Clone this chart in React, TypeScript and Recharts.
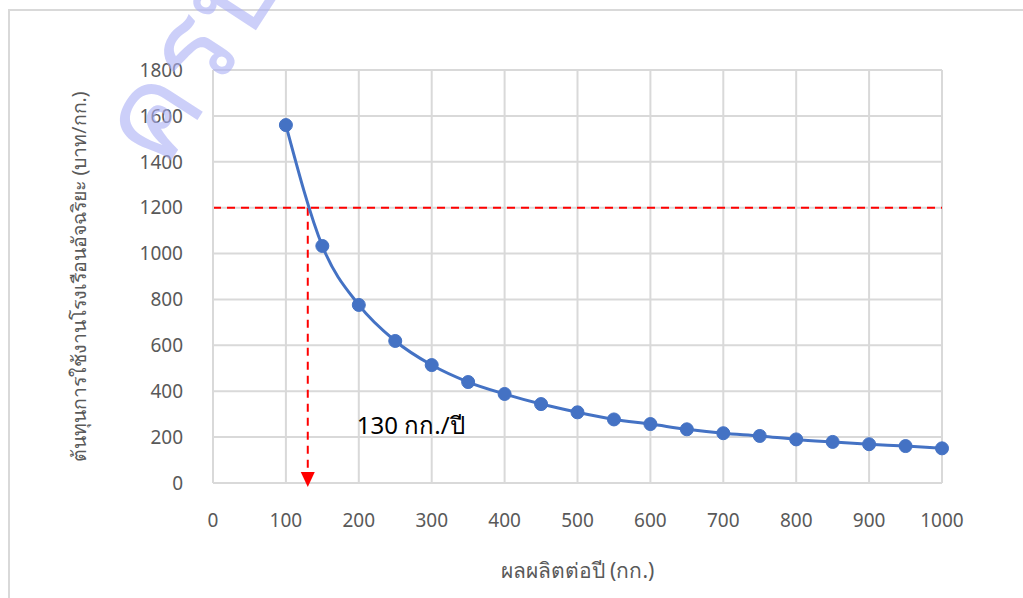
import React from 'react';
import {
  LineChart, Line, XAxis, YAxis, CartesianGrid, ReferenceLine, ReferenceDot, Label,
} from 'recharts';

// production per year (kg) vs. smart greenhouse cost (baht/kg)
const production = [100, 150, 200, 250, 300, 350, 400, 450, 500, 550, 600, 650, 700, 750, 800, 850, 900, 950, 1000];
const costPerKg = [1560, 1033, 776, 619, 514, 440, 388, 344, 308, 277, 257, 234, 217, 205, 190, 179, 169, 161, 151];

const xTicks = [0, 100, 200, 300, 400, 500, 600, 700, 800, 900, 1000];
const yTicks = [0, 200, 400, 600, 800, 1000, 1200, 1400, 1600, 1800];

const targetCost = 1200;
const breakEven = 130;
const noteAnchor = { x: 200, y: 250 };
const noteText = '130 กก./ปี';

const xTitle = 'ผลผลิตต่อปี (กก.)';
const yTitle = 'ต้นทุนการใช้งานโรงเรือนอัจฉริยะ (บาท/กก.)';

const data = production.map((x, i) => ({ x, cost: costPerKg[i] }));

const FONT = 'Tahoma, "Noto Sans", "DejaVu Sans", sans-serif';
const tickStyle = { fill: '#595959', fontSize: 19, fontFamily: FONT };

const Arrow = (props: any) => {
  const { cx, cy } = props;
  return <path d={`M${cx - 7},${cy - 11} L${cx + 7},${cy - 11} L${cx},${cy + 4} Z`} fill="#ff0000" />;
};

export default function App() {
  return (
    <div style={{ position: 'absolute', top: 0, left: 0, width: 1023, height: 598, overflow: 'hidden', background: '#fff' }}>
      <div style={{ position: 'absolute', left: 8, top: 9, width: 1100, height: 700, borderLeft: '2px solid #d9d9d9', borderTop: '2px solid #d9d9d9' }} />
      <LineChart
        width={1023}
        height={598}
        data={data}
        margin={{ top: 70, right: 81, bottom: 0, left: 133 }}
        style={{ position: 'absolute', top: 0, left: 0 }}
      >
        <CartesianGrid stroke="#d9d9d9" strokeWidth={2} />
        <XAxis
          dataKey="x"
          type="number"
          domain={[0, 1000]}
          ticks={xTicks}
          tick={tickStyle}
          tickLine={false}
          tickSize={0}
          tickMargin={31}
          axisLine={{ stroke: '#d9d9d9', strokeWidth: 2 }}
          height={115}
        >
          <Label value={xTitle} position="insideBottom" offset={20} style={{ fill: '#595959', fontSize: 21, fontFamily: FONT }} />
        </XAxis>
        <YAxis
          type="number"
          domain={[0, 1800]}
          ticks={yTicks}
          tick={tickStyle}
          tickLine={false}
          tickSize={0}
          tickMargin={30}
          axisLine={{ stroke: '#d9d9d9', strokeWidth: 2 }}
          width={80}
        >
          <Label
            value={yTitle}
            angle={-90}
            position="insideLeft"
            offset={-54}
            style={{ fill: '#595959', fontSize: 19.5, fontFamily: FONT, textAnchor: 'middle' }}
          />
        </YAxis>
        <ReferenceLine y={targetCost} stroke="#ff0000" strokeWidth={2} strokeDasharray="8 6" />
        <ReferenceLine
          segment={[{ x: breakEven, y: targetCost }, { x: breakEven, y: 40 }]}
          stroke="#ff0000"
          strokeWidth={2}
          strokeDasharray="8 6"
        />
        <ReferenceDot x={breakEven} y={0} shape={Arrow} />
        <ReferenceDot x={noteAnchor.x} y={noteAnchor.y} r={0} fill="none" stroke="none">
          <Label value={noteText} position="right" offset={-2} style={{ fill: '#000', fontSize: 24, fontFamily: FONT }} />
        </ReferenceDot>
        <Line
          type="monotone"
          dataKey="cost"
          stroke="#4472c4"
          strokeWidth={3}
          dot={{ r: 6.5, fill: '#4472c4', stroke: '#4472c4', strokeWidth: 1 }}
          isAnimationActive={false}
        />
      </LineChart>
      <div
        style={{
          position: 'absolute', left: 70, top: -12, fontSize: 125, fontFamily: FONT,
          color: 'rgba(170,175,245,0.6)', transform: 'rotate(-57deg)', transformOrigin: '50% 50%',
          whiteSpace: 'nowrap', pointerEvents: 'none', lineHeight: 1,
        }}
      >
        ครบ
      </div>
    </div>
  );
}
